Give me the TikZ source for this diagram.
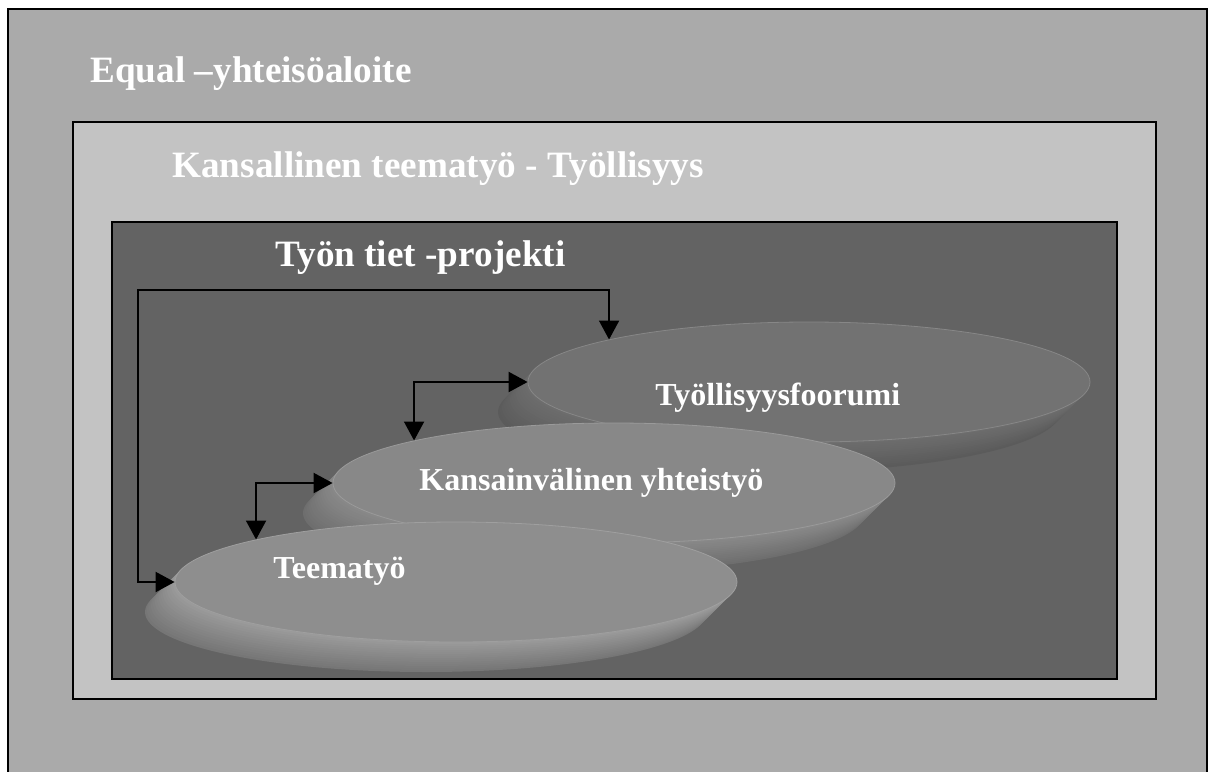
\documentclass[tikz,border=0pt]{standalone}
\usepackage{fontspec}
\setmainfont{Liberation Serif}
\usetikzlibrary{arrows.meta,shapes.geometric}
\definecolor{outergray}{HTML}{AAAAAA}
\definecolor{middlegray}{HTML}{C3C3C3}
\definecolor{innergray}{HTML}{636363}
\definecolor{face1}{HTML}{8E8E8E}
\definecolor{face2}{HTML}{888888}
\definecolor{face3}{HTML}{727272}
\definecolor{side1l}{HTML}{9C9C9C}
\definecolor{side1d}{HTML}{767676}
\definecolor{side2l}{HTML}{8A8A8A}
\definecolor{side2d}{HTML}{6E6E6E}
\definecolor{side3l}{HTML}{6E6E6E}
\definecolor{side3d}{HTML}{5B5B5B}
\tikzset{
    %Define standard arrow tip
    >={Triangle[length=9.5pt,width=10pt]},
    %Define style for the frames
    kehys/.style={
           draw=black,
           line width=1pt},
    %Define style for the titles
    otsikko/.style={
           anchor=base west,
           inner sep=0pt,
           text=white,
           font=\fontsize{18.6}{22}\selectfont\bfseries},
    %Define style for the discs
    kiekko/.style={
           ellipse,
           minimum width=281pt,
           minimum height=60pt,
           inner sep=0pt},
    kiekkoteksti/.style={
           anchor=base west,
           inner sep=0pt,
           text=white,
           font=\fontsize{16}{19}\selectfont\bfseries},
    % Define arrow style
    pil/.style={
           <->,
           line width=1pt}
}
\begin{document}
\begin{tikzpicture}[x=0.5pt,y=-0.5pt]
\useasboundingbox (0,0) rectangle (1210,771);
\clip (0,0) rectangle (1210,771);
\fill[white] (0,0) rectangle (1210,771);

%frames
\draw[kehys, fill=outergray] (8,9) rectangle (1207,800);
\draw[kehys, fill=middlegray] (73,122) rectangle (1156,699);
\draw[kehys, fill=innergray] (112,222) rectangle (1117,679);

%titles
\node[otsikko] (equal) at (90,82) {Equal –yhteisöaloite};
\node[otsikko] (kansallinen) at (172,177) {Kansallinen teematyö - Työllisyys};
\node[otsikko] (tyontiet) at (275,266) {Työn tiet -projekti};

%discs, back to front
\foreach \name/\cx/\cy/\face/\light/\dark in {foorumi/809/382/face3/side3l/side3d,
    yhteistyo/614/483/face2/side2l/side2d, teema/456/582/face1/side1l/side1d}{
  \foreach \i [evaluate=\i as \p using \i*100/15,
               evaluate=\i as \s using 30*(1-\i/15)] in {0,...,14}
    \fill[\light!\p!\dark] (\cx-\s,\cy+\s) ellipse [x radius=140.5pt, y radius=30pt];
  \node[kiekko, fill=\face, draw=\face!85!white] (\name) at (\cx,\cy) {};
}

%disc texts
\node[kiekkoteksti] (foorumiteksti) at (655,405) {Työllisyysfoorumi};
\node[kiekkoteksti] (yhteistyoteksti) at (419,490) {Kansainvälinen yhteistyö};
\node[kiekkoteksti] (teemateksti) at (273,578) {Teematyö};

%arrows
\coordinate (kulma) at (138,290);
\draw[pil] (foorumi.168.2) |- (kulma) |- (teema.west);
\draw[pil] (yhteistyo.west) -| (teema.168.2);
\draw[pil] (foorumi.west) -| (yhteistyo.168.2);
\end{tikzpicture}
\end{document}
